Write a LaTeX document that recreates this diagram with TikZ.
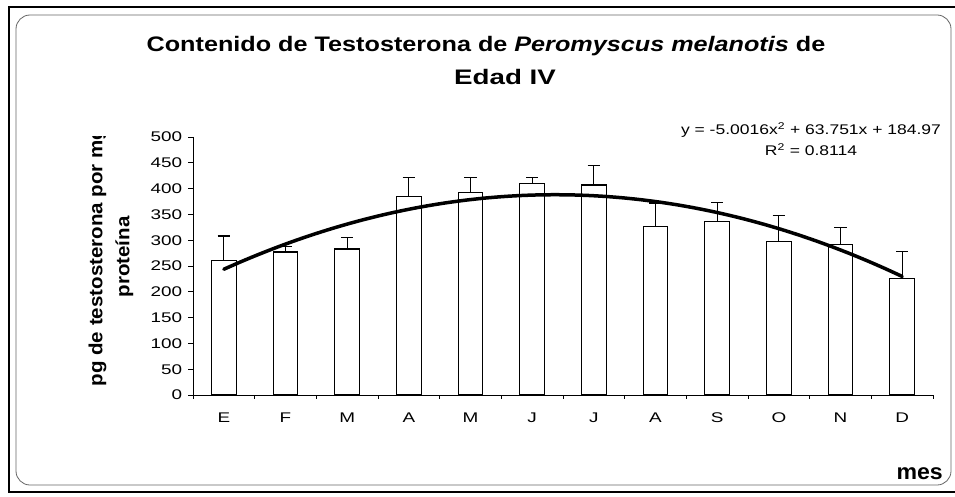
\documentclass[tikz,border=0pt]{standalone}
\usepackage{fontspec}
\setmainfont{Liberation Sans}
\begin{document}
\begin{tikzpicture}[x=1pt,y=-1pt]
            \tikzstyle{every node}+=[inner sep=0pt]
            \tikzstyle{bar}=[draw=black,fill=white,line width=1.2pt]
            \tikzstyle{trend}=[black,line width=3.5pt,line cap=round]
            \tikzstyle{tick}=[font=\fontsize{14}{16}\selectfont, xscale=1.35]
            \tikzstyle{heading}=[font=\fontsize{21}{24}\selectfont\bfseries, xscale=1.2]
            \useasboundingbox (0,0) rectangle (955,497);
            \clip (0,0) rectangle (955,497);
            \draw [black, line width=1.8pt] (9,7) rectangle (975,492);
            \draw [black!60, line width=0.8pt, rounded corners=14pt] (16,15) rectangle (951,485);
            % title
            \node (title1) [heading, anchor=base] at (486,52) {Contenido de Testosterona de \textit{Peromyscus melanotis} de};
            \node (title2) [heading, anchor=base, xscale=1.1] at (505,85) {Edad IV};
            % y axis title, cut off at the top of the plot
            \begin{scope}
              \clip (20,137) rectangle (190,480);
              \node (ylabel) [rotate=90, xscale=1.08, align=center, font=\fontsize{19}{27}\selectfont\bfseries] at (111,257) {pg de testosterona por mg\\ proteína};
            \end{scope}
            % fitted curve
            \node (eq1) [anchor=base, xscale=1.25] at (811,135) {\fontsize{14}{16}\selectfont y = -5.0016x\textsuperscript{2} + 63.751x + 184.97};
            \node (eq2) [anchor=base, xscale=1.25] at (811,156) {\fontsize{14}{16}\selectfont R\textsuperscript{2} = 0.8114};
            \node (mes) [anchor=base east, xscale=1.05] at (943,479) {\fontsize{22}{24}\selectfont\bfseries mes};
            \begin{scope}[shift={(193,395)}, x=61.67pt, y=0.516pt]
              \draw [black, line width=0.8pt] (0,500) -- (0,0) -- (12,0);
              \foreach \v in {0,50,...,500}
                \draw [black, line width=0.8pt] (0,\v) -- ++(-5pt,0) node (y\v) [tick, anchor=east, xshift=-4pt] {\v};
              \foreach \k in {0,...,12}
                \draw [black, line width=0.8pt] (\k,0) -- ++(0,-4pt);
              \foreach \m [count=\i] in {E,F,M,A,M,J,J,A,S,O,N,D}
                \node (m\i) [tick] at (\i-0.5,0) [yshift=-23pt] {\m};
              % bars with upper error bars
              \draw [bar] (0.3,0) rectangle (0.7,260) (0.5,260) -- (0.5,308) (0.4,308) -- (0.6,308);
              \draw [bar] (1.3,0) rectangle (1.7,277) (1.5,277) -- (1.5,288) (1.4,288) -- (1.6,288);
              \draw [bar] (2.3,0) rectangle (2.7,283) (2.5,283) -- (2.5,306) (2.4,306) -- (2.6,306);
              \draw [bar] (3.3,0) rectangle (3.7,384) (3.5,384) -- (3.5,422) (3.4,422) -- (3.6,422);
              \draw [bar] (4.3,0) rectangle (4.7,393) (4.5,393) -- (4.5,422) (4.4,422) -- (4.6,422);
              \draw [bar] (5.3,0) rectangle (5.7,410) (5.5,410) -- (5.5,422) (5.4,422) -- (5.6,422);
              \draw [bar] (6.3,0) rectangle (6.7,407) (6.5,407) -- (6.5,444) (6.4,444) -- (6.6,444);
              \draw [bar] (7.3,0) rectangle (7.7,326) (7.5,326) -- (7.5,372) (7.4,372) -- (7.6,372);
              \draw [bar] (8.3,0) rectangle (8.7,337) (8.5,337) -- (8.5,373) (8.4,373) -- (8.6,373);
              \draw [bar] (9.3,0) rectangle (9.7,298) (9.5,298) -- (9.5,348) (9.4,348) -- (9.6,348);
              \draw [bar] (10.3,0) rectangle (10.7,292) (10.5,292) -- (10.5,324) (10.4,324) -- (10.6,324);
              \draw [bar] (11.3,0) rectangle (11.7,225) (11.5,225) -- (11.5,278) (11.4,278) -- (11.6,278);
              \draw [trend] plot [smooth, domain=0.5:11.5, samples=40] (\x, {-5.0016*(\x+0.5)^2 + 63.751*(\x+0.5) + 184.97});
            \end{scope}
        \end{tikzpicture}
\end{document}
